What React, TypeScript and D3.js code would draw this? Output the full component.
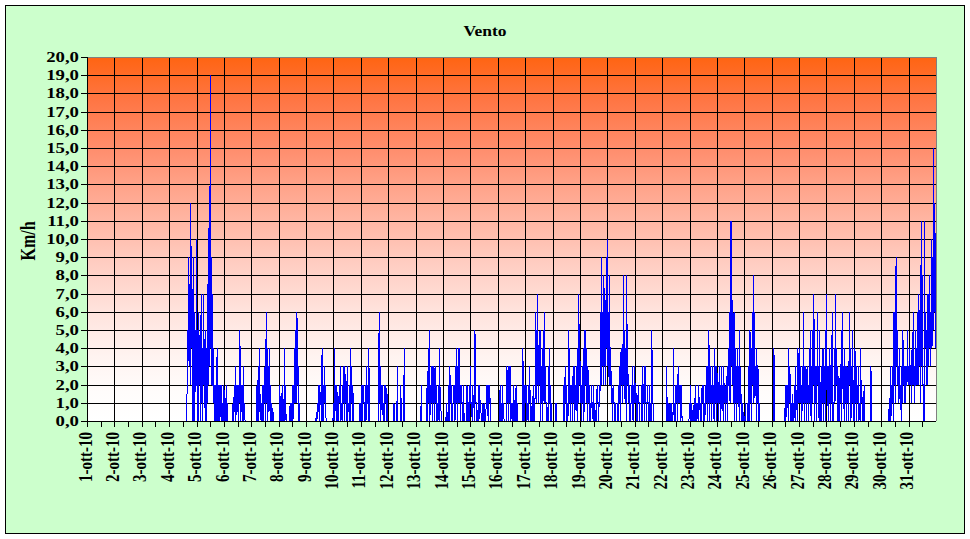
import React from "react";
import * as d3 from "d3";

const chartTitle = "Vento";
const yAxisTitle = "Km/h";
const yTickValues = [0, 1, 2, 3, 4, 5, 6, 7, 8, 9, 10, 11, 12, 13, 14, 15, 16, 17, 18, 19, 20];
const monthShort = ["gen", "feb", "mar", "apr", "mag", "giu", "lug", "ago", "set", "ott", "nov", "dic"];

// half-hourly wind speed (km/h), one array per day of October 2010
const oct01 = [0, 0, 0, 0, 0, 0, 0, 0, 0, 0, 0, 0, 0, 0, 0, 0, 0, 0, 0, 0, 0, 0, 0, 0, 0, 0, 0, 0, 0, 0, 0, 0, 0, 0, 0, 0, 0, 0, 0, 0, 0, 0, 0, 0, 0, 0, 0, 0];
const oct02 = [0, 0, 0, 0, 0, 0, 0, 0, 0, 0, 0, 0, 0, 0, 0, 0, 0, 0, 0, 0, 0, 0, 0, 0, 0, 0, 0, 0, 0, 0, 0, 0, 0, 0, 0, 0, 0, 0, 0, 0, 0, 0, 0, 0, 0, 0, 0, 0];
const oct03 = [0, 0, 0, 0, 0, 0, 0, 0, 0, 0, 0, 0, 0, 0, 0, 0, 0, 0, 0, 0, 0, 0, 0, 0, 0, 0, 0, 0, 0, 0, 0, 0, 0, 0, 0, 0, 0, 0, 0, 0, 0, 0, 0, 0, 0, 0, 0, 0];
const oct04 = [0, 0, 0, 0, 0, 0, 0, 0, 0, 0, 0, 0, 0, 0, 0, 0, 0, 0, 0, 0, 0, 0, 0, 0, 0, 0, 0, 0, 0, 0, 0, 0,
  5, 3, 9, 3, 7.5, 2, 12, 4, 6, 0, 9, 0, 6, 0, 5, 2];
const oct05 = [10, 0, 5, 0, 6, 2, 4, 0, 7, 1, 4, 0, 7, 2, 4.5, 0, 5, 0, 4, 1, 7.5, 2, 12, 3,
  19, 4, 9, 2, 7, 1, 4, 0, 2, 0, 2, 0, 4, 0, 2, 0, 2, 0, 2, 0, 2, 0, 1, 0];
const oct06 = [2, 0, 0, 0, 2, 0, 1, 0, 0, 0, 0, 0, 0, 0, 0, 0, 1, 0, 2, 0.5, 3, 0, 2, 0.5,
  2, 0, 2, 1, 5, 0, 2, 0.5, 2, 0, 3, 0, 1, 0, 0, 0, 0, 0, 0, 0, 0, 0, 0, 0];
const oct07 = [0, 0, 0, 0, 0, 0, 0, 0, 0, 0, 2, 0, 3, 0, 4, 0.5, 1.5, 0, 1, 0, 2, 0, 2, 1,
  3, 0, 6, 1, 4, 0, 3, 0.5, 4, 0, 2, 0, 1, 0, 0.5, 0, 0, 0, 0, 0, 0, 0, 0, 0];
const oct08 = [0, 0, 2, 0, 1, 0, 2, 0, 1, 0, 4, 0, 2, 0, 0, 0, 0, 0, 0, 0, 1, 0, 1, 0,
  2, 0, 2, 1, 4, 1, 5, 1, 6, 2, 3, 0, 1, 0, 0, 0, 0, 0, 0, 0, 0, 0, 0, 0];
const oct09 = [0, 0, 0, 0, 0, 0, 0, 0, 0, 0, 0, 0, 0, 0, 0, 0, 0, 0, 0.5, 0, 1, 0.5, 2, 0,
  2, 1, 1, 0, 4, 0, 2, 0, 3, 1, 2, 0, 0, 0, 0, 0, 0, 0, 0, 0, 0, 0, 0, 0];
const oct10 = [1, 0, 4, 1, 1, 0, 2, 0, 1, 0, 2, 1, 3, 0, 1, 0, 2, 1, 3, 0, 3, 1, 1, 0,
  3, 0, 1, 0.5, 2, 0, 4, 1, 3, 0, 2, 0, 0, 0, 0, 0, 0, 0, 0, 0, 0, 0, 1, 0];
const oct11 = [1, 0, 2, 0, 2, 1, 1, 0, 2, 0, 3, 1, 2, 0, 4, 0, 0, 0, 0, 0, 0, 0, 0, 0,
  0, 0, 0, 0, 0, 0, 0, 0, 6, 1, 3, 0, 2, 1, 2, 0, 1, 0, 2, 1, 2, 0, 1.5, 0];
const oct12 = [0, 0, 0, 0, 0, 0, 0, 0, 0, 0, 1, 0, 0, 0, 0, 0, 3, 0, 0, 0, 0, 0, 2, 0,
  0, 0, 0, 0, 4, 0, 0, 0, 0, 0, 0, 0, 0, 0, 0, 0, 0, 0, 0, 0, 0, 0, 0, 0];
const oct13 = [0, 0, 0, 0, 0, 0, 0, 0, 0, 0, 2, 0, 0, 0, 0, 0, 0, 0, 0, 0, 2, 0, 4, 1,
  5, 0, 2, 1, 3, 0, 3, 1, 3, 0, 3, 1, 2, 0, 1, 0, 2, 0, 4, 1, 1, 0, 0, 0];
const oct14 = [0, 0, 0, 0, 0, 0, 1, 0, 0.5, 0, 2, 0, 3, 1, 2, 0, 1, 0, 2, 1, 2, 0, 3, 1,
  4, 0, 3, 1, 4, 1, 2, 0, 2, 1, 1, 0, 2, 0, 0, 0, 0, 0, 2, 0, 1, 0, 2, 0];
const oct15 = [3, 1, 1, 0, 2, 1, 1, 0, 5, 1, 1, 0, 0, 0, 2, 0, 2, 1, 1, 0, 0, 0, 1, 0,
  1, 0, 0, 0, 2, 1, 2, 0, 2, 1, 2, 0, 0, 0, 0, 0, 0, 0, 0, 0, 0, 0, 0, 0];
const oct16 = [0, 0, 0, 0, 2, 0, 1, 0, 2, 0, 1, 0, 0, 0, 0, 0, 3, 1, 3, 0, 3, 1, 3, 0,
  1, 0, 1, 0, 2, 0, 1, 0, 2, 0, 1, 0, 0, 0, 0, 0, 0, 0, 0, 0, 4, 0, 2, 0];
const oct17 = [2, 1, 2, 0, 1, 0, 2, 1, 3, 0, 1, 0, 0, 0, 2, 0, 1, 0, 6, 1, 5, 2, 7, 1,
  4, 2, 5, 0, 3, 1, 4, 0, 5, 1, 6, 2, 2, 0, 1, 0, 0, 0, 4, 1, 2, 0, 1, 0];
const oct18 = [0, 0, 0, 0, 0, 0, 1, 0, 0, 0, 0, 0, 0, 0, 0, 0, 0, 0, 0, 0, 2, 0, 3, 1,
  2, 0, 1, 0, 5, 1, 4, 0, 2, 1, 2, 0, 3, 1, 3, 0, 2, 1, 3, 0, 4, 1, 7, 2];
const oct19 = [3.5, 1, 2, 0, 3, 1, 4, 0, 5, 2, 5, 1, 4, 0, 3, 1, 2, 0, 1, 0, 2, 1, 1, 0,
  2, 0, 1, 0, 0, 0, 2, 1, 1, 0, 2, 1, 6, 2, 9, 3, 6, 2, 8, 3, 6, 2, 9, 4];
const oct20 = [10, 3, 6, 2, 8, 2, 4, 1, 2, 0, 2, 1, 1, 0, 1, 0, 0, 0, 1, 0, 2, 1, 3, 0,
  4, 2, 3, 1, 8, 2, 5, 1, 4, 0, 8, 2, 3, 1, 2, 0, 1, 0, 2, 1, 3, 0, 2, 1];
const oct21 = [3, 1, 2, 0, 1, 0, 2, 1, 1, 0, 0, 0, 2, 0, 3, 1, 2, 0, 3, 1, 1, 0, 2, 1,
  1, 0, 2, 0, 1, 0, 5, 1, 1, 0, 0, 0, 0, 0, 0, 0, 0, 0, 0, 0, 0, 0, 0, 0];
const oct22 = [0, 0, 0, 0, 0, 0, 0, 0, 3, 0, 0, 0, 1, 0, 1, 0, 1, 0, 0.5, 0, 4, 0, 1, 0,
  2, 1, 2, 0, 3, 1, 2, 1, 2, 0, 2, 0, 0, 0, 0, 0, 0, 0, 0, 0, 0, 0, 0, 0];
const oct23 = [1, 0, 2, 0, 1, 0, 0.5, 0, 1, 0, 2, 0, 1, 0, 1, 0, 2, 1, 1, 0, 1, 0, 2, 1,
  2, 0, 1, 0, 2, 1, 3, 0, 3, 1, 5, 0, 3, 1, 2, 0, 3, 1, 2, 0, 4, 1, 3, 0];
const oct24 = [3, 1, 2, 0, 3, 1, 2, 0, 3, 1, 2, 0, 3, 1, 2, 0, 2, 1, 3, 0, 4, 2, 6, 1,
  11, 3, 11, 2, 5, 1, 6, 0, 4, 1, 3, 0, 4, 1, 3, 0, 5, 1, 2, 0, 1, 0, 0.5, 0];
const oct25 = [0, 0, 1, 0, 0, 0, 1, 0, 3, 0, 5, 1, 4, 0, 6, 2, 8, 1, 6, 2, 3, 0, 4, 1,
  3, 0, 1, 0, 0, 0, 0, 0, 0, 0, 0, 0, 0, 0, 0, 0, 0, 0, 0, 0, 0, 0, 0, 0];
const oct26 = [0, 0, 0, 0, 4, 0, 0, 0, 0, 0, 0, 0, 0, 0, 0, 0, 0, 0, 0, 0, 0, 0, 0, 0,
  2, 0, 2, 1, 2, 0, 4, 1, 3, 0, 1, 0, 1.5, 0, 1, 0, 2, 0, 3, 1, 1, 0, 4, 1];
const oct27 = [4, 1, 3, 1, 2, 0, 3, 1, 6, 0, 3, 1, 3, 0, 3, 1, 2, 0, 4, 1, 5, 0, 3, 1,
  5, 2, 7, 0, 3, 1, 3, 0, 6, 2, 3, 0, 5, 1, 0, 0, 3, 1, 4, 0, 3, 1, 5, 0];
const oct28 = [7, 2, 3, 0, 3, 1, 4, 0, 3, 1, 6, 0, 0, 0, 4, 1, 7, 2, 4, 0, 3, 1, 0, 0,
  3, 1, 5, 0, 6, 2, 3, 0, 4, 1, 3, 0, 3, 1, 3, 0, 6, 2, 4, 0, 3, 1, 5, 0];
const oct29 = [2, 0, 4, 1, 3, 0, 2, 1, 3, 0, 1, 0, 4, 1, 2, 0, 1, 0, 2, 0, 0, 0, 0, 0,
  0, 0, 0, 0, 0, 0, 3, 0, 0, 0, 0, 0, 0, 0, 0, 0, 0, 0, 0, 0, 0, 0, 0, 0];
const oct30 = [0, 0, 0, 0, 0, 0, 0, 0, 0, 0, 0, 0, 0, 0, 1, 0, 3, 0, 2, 1, 3, 0, 6, 2,
  6, 1, 9, 3, 5, 2, 3, 1, 4, 1, 2, 0, 3, 1, 5, 2, 3, 1, 3, 1, 3, 2, 5, 2];
const oct31 = [3, 2, 4, 2, 3, 1, 4, 2, 6, 2, 3, 1, 5, 2, 4, 2, 6, 2, 7, 3, 4, 1, 11, 3,
  8, 2, 2, 0, 11, 4, 6, 2, 5, 2, 7, 3, 8, 4, 6, 3, 10, 4, 9, 5, 15, 6, 12, 6, 4];

const days = [oct01, oct02, oct03, oct04, oct05, oct06, oct07, oct08, oct09, oct10, oct11, oct12, oct13, oct14, oct15, oct16,
  oct17, oct18, oct19, oct20, oct21, oct22, oct23, oct24, oct25, oct26, oct27, oct28, oct29, oct30, oct31];

type Pt = { t: Date; v: number };
const series: Pt[] = days.flatMap((vals, d) =>
  vals.map((v, i) => ({ t: new Date(Date.UTC(2010, 9, 1 + d, 0, 30 * i)), v }))
);

const FONT = "'Liberation Serif', 'Times New Roman', serif";
const SX = 1.25; // horizontal text stretch of the original rendering

export default function App() {
  const W = 970, H = 539;
  const L = 87, R = 936, T = 57, B = 421;
  const start = new Date(Date.UTC(2010, 9, 1));
  const end = new Date(Date.UTC(2010, 10, 1));
  const x = d3.scaleUtc().domain([start, end]).range([L, R]);
  const y = d3.scaleLinear().domain([0, 20]).range([B, T]);

  const numLocale = d3.formatLocale({ decimal: ",", thousands: ".", grouping: [3], currency: ["€", ""] });
  const fmtY = numLocale.format(".1f");
  const timeLocale = d3.timeFormatLocale({
    dateTime: "%A %e %B %Y, %X", date: "%d/%m/%Y", time: "%H:%M:%S", periods: ["AM", "PM"],
    days: ["domenica", "lunedì", "martedì", "mercoledì", "giovedì", "venerdì", "sabato"],
    shortDays: ["dom", "lun", "mar", "mer", "gio", "ven", "sab"],
    months: ["gennaio", "febbraio", "marzo", "aprile", "maggio", "giugno", "luglio", "agosto", "settembre", "ottobre", "novembre", "dicembre"],
    shortMonths: monthShort,
  });
  const fmtX = timeLocale.utcFormat("%-d-%b-%y");

  const dayTicks = d3.utcDay.range(start, end);
  const halfTicks = d3.utcHour.every(12)!.range(start, end);

  const line = d3.line<Pt>().x(d => x(d.t)).y(d => y(d.v));
  const px = (v: number) => Math.round(v) + 0.5;

  return (
    <svg width={W} height={H} style={{ position: "absolute", left: 0, top: 0, background: "#fff" }}>
      <defs>
        <linearGradient id="plotbg" x1="0" y1="0" x2="0" y2="1">
          <stop offset="0%" stopColor="#FF6412" />
          <stop offset="12%" stopColor="#FF7644" />
          <stop offset="25%" stopColor="#FF8D6C" />
          <stop offset="40%" stopColor="#FFAC96" />
          <stop offset="55%" stopColor="#FFCABE" />
          <stop offset="70%" stopColor="#FFE3DD" />
          <stop offset="82%" stopColor="#FFF3F0" />
          <stop offset="92%" stopColor="#FFFCFB" />
          <stop offset="100%" stopColor="#FFFFFF" />
        </linearGradient>
      </defs>
      <rect x={5.5} y={5.5} width={959} height={528} fill="#CCFFCC" stroke="#000" strokeWidth={1} />
      <rect x={L} y={T} width={R - L} height={B - T} fill="url(#plotbg)" />
      {/* grid */}
      <g stroke="#000" strokeWidth={1} shapeRendering="crispEdges">
        {yTickValues.filter(v => v > 0 && v < 20).map(v => (
          <line key={"h" + v} x1={L} x2={R} y1={px(y(v))} y2={px(y(v))} />
        ))}
        {dayTicks.slice(1).map((d, i) => (
          <line key={"v" + i} x1={px(x(d))} x2={px(x(d))} y1={T} y2={B} />
        ))}
      </g>
      {/* data */}
      <path d={line(series) || ""} fill="none" stroke="#0000FF" strokeWidth={1} shapeRendering="crispEdges" />
      {/* borders */}
      <g shapeRendering="crispEdges">
        <line x1={L} x2={R} y1={px(T)} y2={px(T)} stroke="#808080" />
        <line x1={px(R)} x2={px(R)} y1={T} y2={B} stroke="#808080" />
        <line x1={px(L)} x2={px(L)} y1={T} y2={B + 1} stroke="#000" />
        <line x1={L} x2={R} y1={px(B)} y2={px(B)} stroke="#000" />
        {yTickValues.map(v => (
          <line key={"yt" + v} x1={L - 6} x2={L} y1={px(y(v))} y2={px(y(v))} stroke="#000" />
        ))}
        {halfTicks.map((d, i) => (
          <line key={"xt" + i} x1={px(x(d))} x2={px(x(d))} y1={B} y2={B + 6} stroke="#000" />
        ))}
      </g>
      {/* tick labels */}
      <g fontFamily={FONT} fontWeight="bold" fontSize={15} fill="#000">
        {yTickValues.map(v => (
          <text key={"yl" + v} transform={`translate(79,${y(v) + 5}) scale(${SX},1)`} textAnchor="end">{fmtY(v)}</text>
        ))}
        {dayTicks.map((d, i) => (
          <text key={"xl" + i} transform={`translate(${x(d) - 2},432) scale(${SX},1) rotate(-90)`} textAnchor="end" dy="0.35em">{fmtX(d)}</text>
        ))}
      </g>
      <text transform={`translate(35,241) scale(${SX},1) rotate(-90)`} textAnchor="middle" fontFamily={FONT} fontWeight="bold" fontSize={16}>{yAxisTitle}</text>
      <text transform={`translate(485,36) scale(${SX},1)`} textAnchor="middle" fontFamily={FONT} fontWeight="bold" fontSize={14}>{chartTitle}</text>
    </svg>
  );
}
